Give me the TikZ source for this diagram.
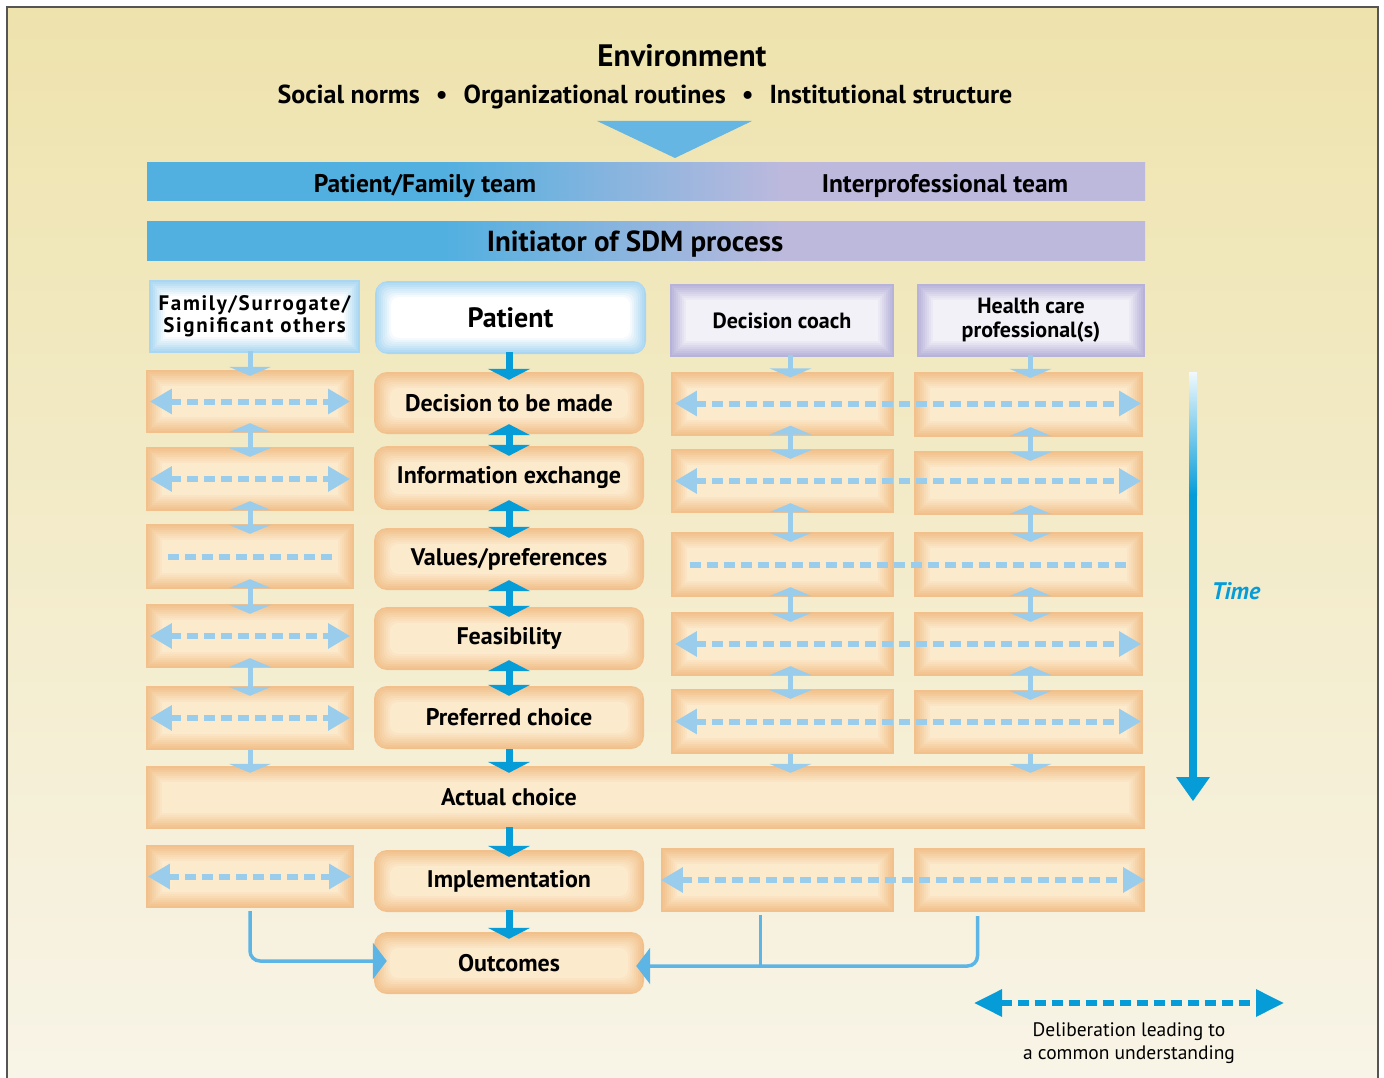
\documentclass[tikz,border=0pt]{standalone}
\usepackage{fontspec}
\setmainfont{PT Sans}
\newfontfamily\spacedfont[LetterSpace=8]{PT Sans}
\usetikzlibrary{arrows.meta,calc}

\definecolor{bgtop}{HTML}{EEE3AD}
\definecolor{bgbottom}{HTML}{F8F4E7}
\definecolor{framegray}{HTML}{555555}
\definecolor{boxedge}{HTML}{F1C08B}
\definecolor{boxcore}{HTML}{FCEACC}
\definecolor{headblue}{HTML}{A9D6F1}
\definecolor{headlav}{HTML}{B6B2DA}
\definecolor{lavcore}{HTML}{F3F1F8}
\definecolor{bandblue}{HTML}{52B0E0}
\definecolor{bandlav}{HTML}{BDB9DD}
\definecolor{envblue}{HTML}{66B6E3}
\definecolor{deepblue}{HTML}{069CD8}
\definecolor{paleblue}{HTML}{9ACCEC}
\definecolor{linkblue}{HTML}{5DB5E5}

\pgfdeclarehorizontalshading{teamband}{100bp}{color(0bp)=(bandblue); color(40bp)=(bandblue); color(57bp)=(bandlav); color(100bp)=(bandlav)}

% soft inner glow for the boxes
\newcommand{\glow}[3]{
	\foreach \k in {1,...,8}{
		\pgfmathtruncatemacro{\mixk}{\k*12.5}
		\fill[#2!\mixk!#1, #3]
		([shift={(\k*2pt,\k*2pt)}]path picture bounding box.south west)
		rectangle ([shift={(-\k*2pt,-\k*2pt)}]path picture bounding box.north east);
	}
}

\tikzset{
	cell/.style={inner sep=0pt, fill=boxedge, path picture={\glow{boxedge}{boxcore}{sharp corners}}},
	stepbox/.style={inner sep=0pt, fill=boxedge, rounded corners=13pt, path picture={\glow{boxedge}{boxcore}{rounded corners=8pt}}, font=\fontsize{24}{27}\selectfont\bfseries},
	bluehead/.style={inner sep=0pt, fill=headblue, align=center, path picture={\glow{headblue}{white}{sharp corners}}},
	lavhead/.style={inner sep=0pt, fill=headlav, align=center, font=\fontsize{22}{24}\selectfont\bfseries, path picture={\glow{headlav}{lavcore}{sharp corners}}},
	band/.style={inner sep=0pt, shading=teamband, minimum width=998pt, minimum height=38pt},
	bandtext/.style={font=\fontsize{25.5}{28}\selectfont\bfseries},
	pflow/.style={line width=7pt, draw=deepblue, -{Triangle[width=42pt,length=11pt]}},
	pflow2/.style={pflow, {Triangle[width=42pt,length=11pt]}-{Triangle[width=42pt,length=11pt]}, shorten <=-10pt, shorten >=-10pt},
	tflow/.style={line width=5pt, draw=paleblue, -{Triangle[width=42pt,length=9pt]}},
	tflow2/.style={tflow, {Triangle[width=42pt,length=9pt]}-{Triangle[width=42pt,length=9pt]}, shorten <=-10pt, shorten >=-10pt},
	talk/.style={line width=6pt, draw=paleblue, dash pattern=on 11pt off 6pt, {Triangle[width=24pt,length=22pt]}-{Triangle[width=24pt,length=22pt]}},
	talkbare/.style={line width=6pt, draw=paleblue, dash pattern=on 11pt off 6pt},
	feed/.style={line width=3.5pt, draw=linkblue, rounded corners=10pt, -{Triangle[width=36pt,length=14pt]}},
}

\begin{document}
\begin{tikzpicture}[x=1pt,y=-1pt]
	\useasboundingbox (0,0) rectangle (1384,1078);
	\shade[top color=bgtop, bottom color=bgbottom] (7,7) rectangle (1378,1078);
	\draw[framegray, line width=1.2pt] (7,1078) -- (7,7) -- (1378,7) -- (1378,1078);
	
	% environment
	\node[font=\fontsize{31}{34}\selectfont\bfseries] (env) at (682,56) {Environment};
	\node[font=\fontsize{26}{30}\selectfont\bfseries] (envlist) at (645,97) {Social norms\hspace{16pt}\textbullet\hspace{16pt}Organizational routines\hspace{16pt}\textbullet\hspace{16pt}Institutional structure};
	\fill[envblue] (597,121) -- (752,121) -- (675,158) -- cycle;
	
	% teams
	\node[band] (teams) at (646,182) {};
	\node[bandtext] (pft) at (425,186) {Patient/Family team};
	\node[bandtext] (ipt) at (945,186) {Interprofessional team};
	\node[band, text depth=0pt, font=\fontsize{29}{31}\selectfont\bfseries] (initiator) at (646,241) {Initiator of SDM process\hspace*{22pt}};
	
	% column heads
	\node[bluehead, minimum width=211pt, minimum height=73pt, font=\spacedfont\fontsize{21}{22}\selectfont\bfseries] (famhead) at (254.5,316.5) {Family/Surrogate/\\Significant others};
	\node[bluehead, rounded corners=13pt, minimum width=271pt, minimum height=73pt, font=\fontsize{28}{30}\selectfont\bfseries, path picture={\glow{headblue}{white}{rounded corners=8pt}}] (pathead) at (510.5,317.5) {Patient};
	\node[lavhead, minimum width=224pt, minimum height=73pt] (dchead) at (782,320.5) {Decision coach};
	\node[lavhead, minimum width=228pt, minimum height=73pt] (hcphead) at (1031,320.5) {Health care\\professional(s)};
	
	% family column
	\node[cell, minimum width=208pt, minimum height=63pt] (fam1) at (250,401.5) {};
	\node[cell, minimum width=208pt, minimum height=64pt] (fam2) at (250,479) {};
	\node[cell, minimum width=208pt, minimum height=65pt] (fam3) at (250,556.5) {};
	\node[cell, minimum width=208pt, minimum height=64pt] (fam4) at (250,636) {};
	\node[cell, minimum width=208pt, minimum height=64pt] (fam5) at (250,718) {};
	\node[cell, minimum width=208pt, minimum height=63pt] (famG) at (250,876.5) {};
	
	% patient column
	\node[stepbox, minimum width=270pt, minimum height=62pt] (pat1) at (509,403) {Decision to be made};
	\node[stepbox, minimum width=270pt, minimum height=64pt] (pat2) at (509,478) {Information exchange};
	\node[stepbox, minimum width=270pt, minimum height=62pt] (pat3) at (509,559) {Values/preferences};
	\node[stepbox, minimum width=270pt, minimum height=63pt] (pat4) at (509,638.5) {Feasibility};
	\node[stepbox, minimum width=270pt, minimum height=63pt] (pat5) at (509,717.5) {Preferred choice};
	\node[stepbox, minimum width=270pt, minimum height=62pt] (impl) at (509,881) {Implementation};
	\node[stepbox, minimum width=270pt, minimum height=62pt] (outc) at (509,963) {Outcomes};
	
	% decision coach column
	\node[cell, minimum width=223pt, minimum height=64pt] (dc1) at (782.5,403.5) {};
	\node[cell, minimum width=223pt, minimum height=64pt] (dc2) at (782.5,481) {};
	\node[cell, minimum width=223pt, minimum height=65pt] (dc3) at (782.5,564.5) {};
	\node[cell, minimum width=223pt, minimum height=64pt] (dc4) at (782.5,644) {};
	\node[cell, minimum width=223pt, minimum height=65pt] (dc5) at (782.5,721.5) {};
	\node[cell, minimum width=233pt, minimum height=64pt] (dcG) at (777.5,880) {};
	
	% health care professional column
	\node[cell, minimum width=229pt, minimum height=65pt] (hcp1) at (1028.5,404.5) {};
	\node[cell, minimum width=229pt, minimum height=64pt] (hcp2) at (1028.5,483) {};
	\node[cell, minimum width=229pt, minimum height=65pt] (hcp3) at (1028.5,564.5) {};
	\node[cell, minimum width=229pt, minimum height=64pt] (hcp4) at (1028.5,644) {};
	\node[cell, minimum width=229pt, minimum height=64pt] (hcp5) at (1028.5,722) {};
	\node[cell, minimum width=231pt, minimum height=64pt] (hcpG) at (1029.5,880) {};
	
	\node[stepbox, rounded corners=0pt, path picture={\glow{boxedge}{boxcore}{sharp corners}}, minimum width=999pt, minimum height=63pt] (actual) at (645.5,797.5) {};
	\node[font=\fontsize{24}{27}\selectfont\bfseries] (actualtxt) at (pat5.south |- actual.center) {Actual choice};
	
	% arrows down the columns
	\draw[tflow, shorten <=-2pt, shorten >=-6pt] (fam1.north |- famhead.south) -- (fam1.north);
	\draw[pflow, shorten <=-2pt, shorten >=-8pt] (pat1.north |- pathead.south) -- (pat1.north);
	\draw[tflow, shorten <=-2pt, shorten >=-6pt] ([xshift=8pt]dc1.north |- dchead.south) -- ([xshift=8pt]dc1.north);
	\draw[tflow, shorten <=-2pt, shorten >=-6pt] ([xshift=2pt]hcp1.north |- hcphead.south) -- ([xshift=2pt]hcp1.north);
	\foreach \a/\b in {1/2,2/3,3/4,4/5}{
		\draw[tflow2] (fam\a.south) -- (fam\b.north);
		\draw[pflow2] (pat\a.south) -- (pat\b.north);
		\draw[tflow2] ([xshift=8pt]dc\a.south) -- ([xshift=8pt]dc\b.north);
		\draw[tflow2] ([xshift=2pt]hcp\a.south) -- ([xshift=2pt]hcp\b.north);
	}
	\draw[tflow, shorten >=-7pt] (fam5.south) -- (fam5.south |- actual.north);
	\draw[pflow, shorten >=-7pt] (pat5.south) -- (pat5.south |- actual.north);
	\draw[tflow, shorten >=-7pt] ([xshift=8pt]dc5.south) -- ([xshift=8pt]dc5.south |- actual.north);
	\draw[tflow, shorten >=-7pt] ([xshift=2pt]hcp5.south) -- ([xshift=2pt]hcp5.south |- actual.north);
	\draw[pflow, shorten <=-2pt, shorten >=-7pt] (impl.north |- actual.south) -- (impl.north);
	\draw[pflow, shorten <=-2pt, shorten >=-7pt] (impl.south) -- (outc.north);
	
	% deliberation across the rows
	\foreach \r in {1,2,4,5}{
		\draw[talk, shorten <=4pt, shorten >=4pt] (fam\r.west) -- (fam\r.east);
		\draw[talk, shorten <=4pt, shorten >=2pt] (dc\r.west) -- (dc\r.west -| hcp\r.east);
	}
	\draw[talkbare, shorten <=22pt, shorten >=21pt] (fam3.west) -- (fam3.east);
	\draw[talkbare, shorten <=19pt, shorten >=16pt] (dc3.west) -- (dc3.west -| hcp3.east);
	\draw[talk, shorten <=2pt, shorten >=3pt] (famG.west) -- (famG.east);
	\draw[talk, shorten >=0pt] (dcG.west) -- (dcG.west -| hcpG.east);
	
	% feedback into outcomes
	\draw[feed, shorten >=-13pt] ([yshift=-3pt]famG.south) |- ([yshift=2pt]outc.west);
	\coordinate (joinR) at ([yshift=-3pt]outc.east);
	\coordinate (dcdrop) at ([xshift=-17pt,yshift=-3pt]dcG.south);
	\coordinate (hcpdrop) at ([xshift=-52pt,yshift=-4pt]hcpG.south);
	\draw[feed, shorten >=-8pt] (hcpdrop) |- (joinR);
	\draw[line width=3.5pt, draw=linkblue] (dcdrop) -- (dcdrop |- joinR);
	
	% time
	\shade[top color=deepblue!6, bottom color=deepblue] (1189,372) rectangle (1197,495);
	\fill[deepblue] (1189,494) rectangle (1197,780);
	\fill[deepblue] (1176,777) -- (1210,777) -- (1193,801) -- cycle;
	\node[font=\fontsize{24}{26}\selectfont\bfseries\itshape, text=deepblue] (time) at (1236,591) {Time};
	
	% legend
	\coordinate (legL) at (974,1003);
	\coordinate (legR) at (1284,1003);
	\draw[talk, draw=deepblue, {Triangle[width=26pt,length=28pt]}-{Triangle[width=26pt,length=28pt]}] (legL) -- (legR);
	\node[align=center, font=\fontsize{19.5}{23}\selectfont] (legtext) at (1129,1043) {Deliberation leading to\\a common understanding};
\end{tikzpicture}
\end{document}
